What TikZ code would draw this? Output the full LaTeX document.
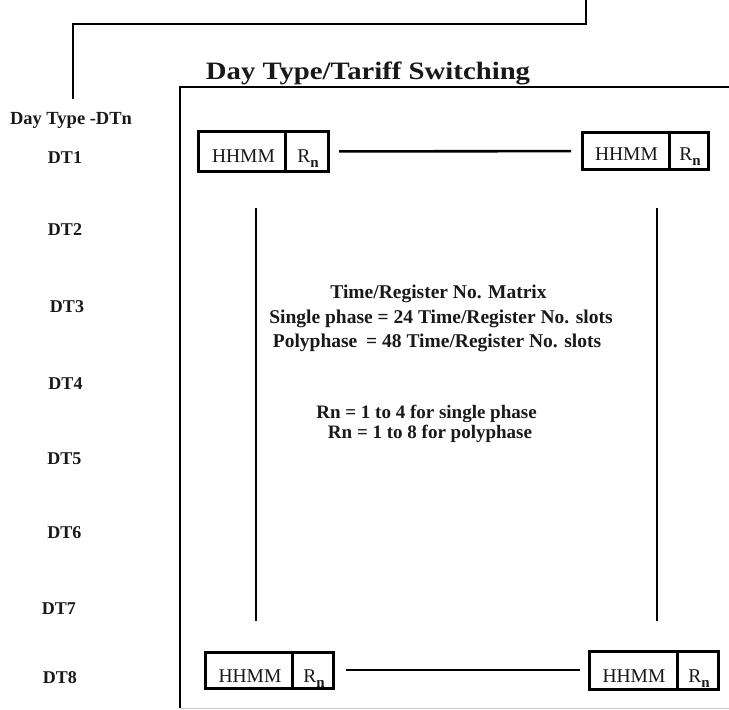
\documentclass[tikz,border=0pt]{standalone}
\usepackage{graphicx}
\usepackage{fontspec}
\setmainfont{Liberation Serif}
\newcommand{\regn}{R\raisebox{-5bp}{\fontsize{15bp}{15bp}\selectfont\bfseries n}}
\begin{document}
\begin{tikzpicture}[x=1bp,y=-1bp,
  ink/.style={line width=2.6bp, black},
  cell/.style={draw=black, line width=3bp, inner sep=0pt, outer sep=0pt, rectangle},
  celltext/.style={inner sep=0pt, anchor=base, text=black!90, font=\fontsize{19.5bp}{20bp}\selectfont},
  dtlabel/.style={inner sep=0pt, anchor=base, text=black!90, font=\fontsize{18bp}{20bp}\selectfont\bfseries},
  midtext/.style={inner sep=0pt, anchor=base, text=black!90, font=\fontsize{19.5bp}{22bp}\selectfont\bfseries},
]
\useasboundingbox (0,0) rectangle (729,710);
\fill[white] (0,0) rectangle (729,710);

% frame
\coordinate (frTR) at (729,87);
\coordinate (frTL) at (180,87);
\coordinate (frBL) at (180,708);
\coordinate (frBR) at (729,708);
\draw[ink] (frTR) -- (frTL) -- (frBL);
\draw[black!22, line width=1bp] (frBL) -- (frBR);

% top connector
\coordinate (topend) at (586,0);
\coordinate (dtend) at (73,99);
\draw[ink] (topend) -- ++(0,24) -| (dtend);

% title and heading
\node[anchor=base, inner sep=0pt, text=black!90, font=\fontsize{25bp}{28bp}\selectfont\bfseries] (title) at (368,79.5) {\scalebox{1.15}[1]{Day Type/Tariff Switching}};
\node[dtlabel, font=\fontsize{18.5bp}{20bp}\selectfont\bfseries] (dthead) at (71,125) {Day Type -DTn};

% day type labels
\node[dtlabel] (dt1) at (65,163) {DT1};
\node[dtlabel] (dt2) at (65,235) {DT2};
\node[dtlabel] (dt3) at (67,312) {DT3};
\node[dtlabel] (dt4) at (65.5,389) {DT4};
\node[dtlabel] (dt5) at (64.5,464) {DT5};
\node[dtlabel] (dt6) at (64.5,538) {DT6};
\node[dtlabel] (dt7) at (59,614) {DT7};
\node[dtlabel] (dt8) at (60,683) {DT8};

% cells: top-left
\node[cell, minimum width=87bp, minimum height=39bp] (tlh) at (241.5,151.5) {};
\node[cell, minimum width=43bp, minimum height=39bp] (tlr) at (306.5,151.5) {};
\node[celltext] (tlht) at (243.5,162) {HHMM};
\node[celltext] (tlrt) at (308,162) {\regn};
% top-right
\node[cell, minimum width=87bp, minimum height=36bp] (trh) at (625.5,151) {};
\node[cell, minimum width=39bp, minimum height=36bp] (trr) at (688.5,151) {};
\node[celltext] (trht) at (626.5,160.5) {HHMM};
\node[celltext] (trrt) at (690,160.5) {\regn};
% bottom-left
\node[cell, minimum width=87bp, minimum height=36bp] (blh) at (248.5,670) {};
\node[cell, minimum width=41bp, minimum height=36bp] (blr) at (312.5,670) {};
\node[celltext] (blht) at (250,682) {HHMM};
\node[celltext] (blrt) at (314,682) {\regn};
% bottom-right
\node[cell, minimum width=88bp, minimum height=38bp] (brh) at (633,670) {};
\node[cell, minimum width=41bp, minimum height=38bp] (brr) at (697.5,670) {};
\node[celltext] (brht) at (634,682) {HHMM};
\node[celltext] (brrt) at (699,682) {\regn};

% horizontal connectors
\draw[ink, shorten <=11bp, shorten >=11bp] (tlr) -- (trh);
\draw[ink, shorten <=13bp, shorten >=9bp] (blr) -- (brh);

% vertical lines
\coordinate (lvtop) at (256,208);
\coordinate (lvbot) at (256,621);
\coordinate (rvtop) at (657,208);
\coordinate (rvbot) at (657,621);
\draw[ink] (lvtop) -- (lvbot);
\draw[ink] (rvtop) -- (rvbot);

% centre text
\node[midtext] (m1) at (438.5,298) {Time/Register No. Matrix};
\node[midtext] (m2) at (441,323) {Single phase = 24 Time/Register No. slots};
\node[midtext] (m3) at (437,347) {Polyphase\hspace{0.2em} = 48 Time/Register No. slots};
\node[midtext, font=\fontsize{19bp}{22bp}\selectfont\bfseries] (m4) at (426.5,418) {Rn = 1 to 4 for single phase};
\node[midtext, font=\fontsize{19bp}{22bp}\selectfont\bfseries] (m5) at (430,438) {Rn = 1 to 8 for polyphase};
\end{tikzpicture}
\end{document}
